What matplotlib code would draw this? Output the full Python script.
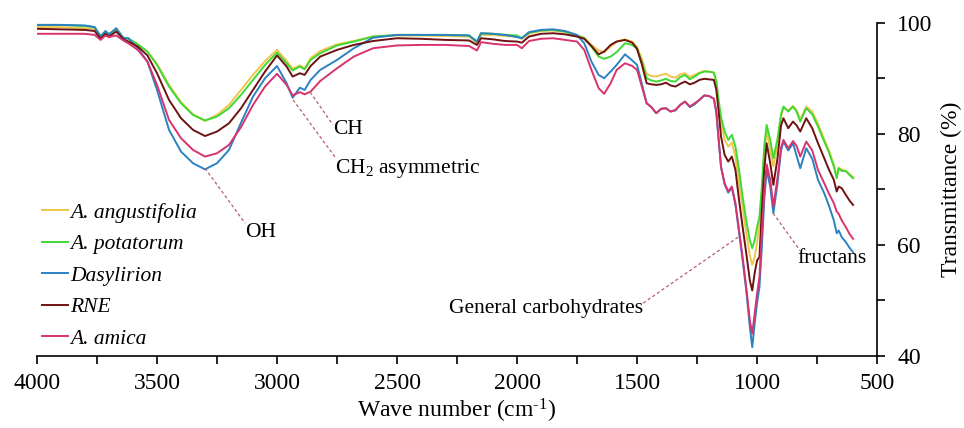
import matplotlib
matplotlib.use("Agg")
import matplotlib.pyplot as plt
from matplotlib.ticker import MultipleLocator

plt.rcParams['font.family'] = ['Liberation Serif', 'DejaVu Serif']
plt.rcParams['mathtext.fontset'] = 'custom'
plt.rcParams['mathtext.rm'] = 'Liberation Serif'
plt.rcParams['mathtext.it'] = 'Liberation Serif:italic'

wavenumber = [4000, 3900, 3800, 3760, 3735, 3715, 3700, 3670, 3640, 3620,
              3580, 3540, 3500, 3450, 3400, 3350, 3300, 3250, 3200, 3150,
              3100, 3050, 3000, 2960, 2935, 2905, 2885, 2860, 2820, 2750,
              2680, 2600, 2500, 2400, 2300, 2200, 2167, 2150, 2100, 2050,
              2000, 1980, 1950, 1900, 1850, 1800, 1750, 1720, 1690, 1660,
              1637, 1610, 1585, 1550, 1520, 1500, 1480, 1460, 1440, 1420,
              1400, 1380, 1360, 1340, 1320, 1300, 1280, 1260, 1240, 1220,
              1200, 1180, 1170, 1160, 1150, 1135, 1120, 1105, 1090, 1075,
              1060, 1045, 1030, 1020, 1010, 1000, 990, 980, 970, 960,
              945, 932, 915, 900, 890, 870, 850, 835, 820, 795,
              770, 746, 720, 700, 680, 668, 660, 647, 630, 615, 600]

a_angustifolia = [99.2, 99.2, 99.0, 98.9, 97.4, 98.2, 97.8, 98.7, 97.2, 97.0,
                  96.0, 94.8, 92.6, 88.8, 85.7, 83.5, 82.3, 83.4, 85.2, 87.9,
                  90.6, 93.1, 95.1, 93.1, 91.7, 92.3, 91.8, 93.6, 94.9, 96.1,
                  96.7, 97.5, 97.7, 97.7, 97.6, 97.5, 96.3, 97.8, 97.8, 97.6,
                  97.5, 97.1, 98.0, 98.5, 98.6, 98.3, 97.7, 97.3, 96.0, 95.0,
                  94.7, 95.7, 96.6, 97.0, 96.6, 95.6, 93.5, 90.8, 90.4, 90.3,
                  90.6, 90.8, 90.3, 90.1, 90.7, 90.9, 90.2, 90.6, 91.0, 91.3,
                  91.2, 91.0, 89.5, 85.5, 82.0, 78.9, 77.7, 78.4, 75.9, 71.1,
                  66.8, 62.1, 58.1, 56.4, 57.8, 60.3, 63.9, 69.3, 75.9, 80.6,
                  77.1, 74.1, 78.0, 83.0, 84.6, 84.2, 85.0, 84.2, 82.6, 84.9,
                  84.0, 81.8, 79.0, 77.0, 74.4, 72.3, 73.9, 73.6, 73.3, 72.8, 72.2]

a_potatorum = [99.6, 99.6, 99.4, 99.2, 97.6, 98.4, 97.9, 98.9, 97.3, 97.2,
               96.1, 94.8, 92.4, 88.5, 85.5, 83.4, 82.4, 83.1, 84.6, 87.0,
               89.7, 92.4, 94.6, 92.7, 91.4, 92.1, 91.6, 93.3, 94.5, 95.9,
               96.6, 97.5, 97.8, 97.8, 97.8, 97.7, 96.6, 98.1, 98.0, 97.8,
               97.7, 97.2, 98.2, 98.6, 98.7, 98.4, 97.7, 97.2, 95.7, 93.9,
               93.5, 93.9, 94.7, 96.3, 96.0, 95.3, 93.0, 90.0, 89.6, 89.4,
               89.6, 89.9, 89.5, 89.4, 90.2, 90.6, 89.8, 90.3, 90.9, 91.2,
               91.2, 91.0, 89.5, 86.0, 83.0, 80.4, 78.9, 79.8, 77.7, 73.5,
               68.6, 64.4, 60.8, 59.4, 60.8, 63.2, 65.0, 70.5, 77.7, 81.6,
               78.9, 75.6, 79.0, 83.5, 84.9, 84.0, 84.9, 84.0, 82.2, 84.6,
               83.5, 81.3, 78.6, 76.6, 74.1, 72.0, 73.8, 73.3, 73.3, 72.6, 72.0]

dasylirion = [99.6, 99.6, 99.5, 99.2, 97.5, 98.5, 97.9, 99.0, 97.2, 97.2,
              95.4, 93.0, 87.9, 80.7, 76.8, 74.7, 73.6, 74.7, 77.1, 82.0,
              86.7, 90.0, 92.2, 89.1, 86.5, 88.3, 87.9, 89.7, 91.5, 93.3,
              95.4, 97.3, 97.8, 97.8, 97.8, 97.7, 96.6, 98.1, 98.0, 97.8,
              97.4, 97.2, 98.3, 98.7, 98.8, 98.5, 97.8, 96.3, 93.0, 90.6,
              90.0, 91.2, 92.4, 94.3, 93.2, 92.4, 89.0, 85.5, 84.8, 83.7,
              84.5, 84.6, 84.0, 84.2, 85.2, 85.8, 84.8, 85.3, 86.1, 86.9,
              86.8, 86.3, 84.0, 79.0, 74.0, 70.9, 69.4, 70.3, 67.2, 62.3,
              57.2, 51.8, 45.2, 41.6, 45.8, 49.5, 52.4, 59.6, 68.1, 73.5,
              70.5, 65.7, 71.0, 77.0, 78.6, 77.0, 78.3, 76.0, 73.8, 77.4,
              75.5, 71.7, 69.3, 67.0, 64.4, 62.1, 62.6, 61.4, 60.5, 59.5, 58.7]

rne = [98.9, 98.8, 98.7, 98.5, 97.1, 98.0, 97.5, 98.4, 97.0, 96.6,
       95.7, 94.1, 90.9, 86.1, 82.8, 80.7, 79.6, 80.4, 81.9, 84.6,
       87.9, 91.2, 94.1, 92.1, 90.3, 90.9, 90.6, 92.2, 93.9, 95.1,
       96.0, 96.7, 97.2, 97.1, 96.9, 96.8, 96.0, 97.2, 97.0, 96.7,
       96.6, 96.4, 97.5, 98.0, 98.1, 97.9, 97.5, 97.1, 95.8, 94.3,
       94.8, 96.0, 96.6, 96.9, 96.4, 95.3, 92.5, 89.1, 88.9, 88.8,
       88.9, 89.2, 88.7, 88.5, 89.0, 89.4, 88.9, 89.2, 89.7, 89.9,
       89.8, 89.7, 88.0, 84.0, 79.5, 76.2, 75.0, 75.9, 73.5, 68.1,
       63.2, 58.5, 53.6, 51.8, 54.9, 57.2, 57.8, 66.3, 73.5, 78.3,
       74.7, 70.8, 75.5, 81.5, 82.8, 81.0, 82.2, 81.5, 80.4, 82.8,
       81.0, 78.3, 75.6, 73.5, 71.7, 69.6, 70.5, 70.2, 69.0, 68.0, 67.2]

a_amica = [98.0, 98.0, 98.0, 97.8, 96.9, 97.7, 97.4, 97.7, 96.8, 96.3,
           95.1, 93.0, 88.8, 82.5, 79.2, 77.1, 75.9, 76.5, 78.0, 81.2,
           85.2, 88.5, 90.8, 88.8, 86.9, 87.5, 87.1, 87.6, 89.5, 91.8,
           93.9, 95.4, 95.9, 96.0, 96.0, 95.8, 95.0, 96.5, 96.2, 96.0,
           96.0, 95.4, 96.7, 97.1, 97.2, 96.9, 96.6, 95.1, 91.5, 88.2,
           87.2, 89.1, 91.5, 92.7, 92.2, 91.5, 88.5, 85.5, 84.8, 83.7,
           84.5, 84.6, 84.0, 84.3, 85.2, 85.8, 84.9, 85.5, 86.1, 86.9,
           86.8, 86.3, 84.0, 79.0, 74.0, 71.1, 69.6, 70.5, 67.5, 62.6,
           57.8, 52.4, 46.4, 44.0, 47.6, 51.2, 54.2, 62.1, 69.3, 74.5,
           71.7, 66.9, 72.0, 77.5, 78.9, 77.4, 78.7, 77.8, 75.9, 78.6,
           77.0, 73.5, 71.1, 69.2, 67.5, 66.0, 65.6, 64.4, 63.2, 62.0, 61.1]

series_names = ["A. angustifolia", "A. potatorum", "Dasylirion", "RNE", "A. amica"]
series_values = [a_angustifolia, a_potatorum, dasylirion, rne, a_amica]
series_colors = ["#EFC54A", "#3FD934", "#2B82C3", "#6E1212", "#D9336F"]

fig = plt.figure(figsize=(9.64, 4.28), dpi=100)
ax = fig.add_axes([0.0384, 0.1682, 0.8714, 0.7788])

for name, vals, col in zip(series_names, series_values, series_colors):
    ax.plot(wavenumber, vals, color=col, lw=1.4, label=name)

ax.set_xlim(4000, 500)
ax.set_ylim(40, 100)

for s in ['top', 'left']:
    ax.spines[s].set_visible(False)
ax.spines['bottom'].set_linewidth(1.2)
ax.spines['right'].set_linewidth(1.2)

ax.xaxis.set_major_locator(MultipleLocator(500))
ax.xaxis.set_minor_locator(MultipleLocator(250))
ax.yaxis.tick_right()
ax.yaxis.set_label_position('right')
ax.yaxis.set_major_locator(MultipleLocator(20))
ax.yaxis.set_minor_locator(MultipleLocator(10))
ax.tick_params(axis='both', which='both', direction='out', width=1.2)
ax.tick_params(axis='x', which='both', length=5.5, pad=7, labelsize=17)
ax.tick_params(axis='y', which='both', length=5.5, pad=9, labelsize=17,
               left=False, right=True)

ax.set_xlabel("Wave number (cm$^{\\text{-1}}$)", fontsize=17, labelpad=2)
ax.set_ylabel("Transmittance (%)", fontsize=17, labelpad=6)

leg = ax.legend(loc='lower left', bbox_to_anchor=(0.006, 0.022), frameon=False,
                handlelength=1.2, handletextpad=0.1, labelspacing=0.53,
                borderpad=0, borderaxespad=0,
                prop={'family': 'Liberation Serif', 'style': 'italic', 'size': 15.5})

ann_color = "#B85C6A"
ann_style = dict(color=ann_color, lw=0.9, linestyle=(0, (2.5, 2)))
fs = 15.5
# OH
ax.plot([3300, 3133], [73.8, 63.9], **ann_style)
ax.text(3133, 62.3, "OH", fontsize=fs, ha='left', va='center')
# CH
ax.plot([2862, 2767], [87.5, 81.6], **ann_style)
ax.text(2767, 80.7, "CH", fontsize=fs, ha='left', va='center')
# CH2 asymmetric
ax.plot([2933, 2758], [86.1, 75.8], **ann_style)
ax.text(2758, 73.8, "CH$_{\\mathregular{2}}$ asymmetric", fontsize=fs, ha='left', va='center')
# General carbohydrates
ax.plot([1079, 1475], [61.4, 49.5], **ann_style)
ax.text(1475, 48.6, "General carbohydrates", fontsize=fs, ha='right', va='center')
# fructans
ax.plot([933, 821], [65.7, 59.0], **ann_style)
ax.text(833, 57.6, "fructans", fontsize=fs, ha='left', va='center')

fig.savefig("out.png", dpi=100)
